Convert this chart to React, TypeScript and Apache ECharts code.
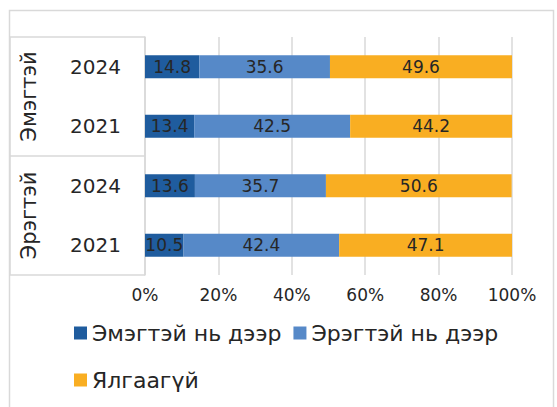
import React, { useEffect, useRef } from "react";
import * as echarts from "echarts";

const categories = ["2024", "2021", "2024", "2021"];
const groups = ["Эмэгтэй", "Эрэгтэй"];
const seriesNames = ["Эмэгтэй нь дээр", "Эрэгтэй нь дээр", "Ялгаагүй"];
const femaleHigher = [14.8, 13.4, 13.6, 10.5];
const maleHigher = [35.6, 42.5, 35.7, 42.4];
const noDifference = [49.6, 44.2, 50.6, 47.1];
const xTicks = [0, 20, 40, 60, 80, 100];

const colors = ["#1F5C9E", "#5689C8", "#F9AE22"];
const FONT = "DejaVu Sans";
const TXT = "#262626";
const LINE = "#D9D9D9";

export default function App() {
  const ref = useRef<HTMLDivElement>(null);
  useEffect(() => {
    if (!ref.current) return;
    const chart = echarts.init(ref.current, null, { renderer: "svg" });
    const gridLeft = 145;
    const gridTop = 37;
    const gridBottomY = 275;
    const mid = (gridTop + gridBottomY) / 2;
    const data = [femaleHigher, maleHigher, noDifference];
    const legendText = { fontFamily: FONT, fontSize: 22, color: TXT };
    chart.setOption({
      animation: false,
      grid: { left: gridLeft, right: 45, top: gridTop, bottom: 407 - gridBottomY, containLabel: false },
      xAxis: {
        type: "value",
        min: 0,
        max: 100,
        interval: 20,
        axisLabel: {
          formatter: (v: number) => (xTicks.includes(v) ? v + "%" : ""),
          fontFamily: FONT,
          fontSize: 17,
          color: TXT,
          margin: 11,
        },
        axisLine: { show: false },
        axisTick: { show: false },
        splitLine: { show: true, lineStyle: { color: LINE, width: 1.5 } },
      },
      yAxis: {
        type: "category",
        inverse: true,
        data: categories,
        axisLabel: { fontFamily: FONT, fontSize: 20, color: TXT, margin: 24 },
        axisLine: { show: true, lineStyle: { color: LINE, width: 1.5 } },
        axisTick: { show: false },
      },
      legend: [
        {
          data: seriesNames.slice(0, 2),
          left: 69,
          top: 317,
          icon: "rect",
          itemWidth: 13,
          itemHeight: 13,
          itemGap: 12,
          textStyle: legendText,
        },
        {
          data: seriesNames.slice(2),
          left: 69,
          top: 364,
          icon: "rect",
          itemWidth: 13,
          itemHeight: 13,
          textStyle: legendText,
        },
      ],
      series: seriesNames.map((name, i) => ({
        name,
        type: "bar",
        stack: "total",
        data: data[i],
        barWidth: 23,
        itemStyle: { color: colors[i] },
        label: {
          show: true,
          position: "inside",
          formatter: (p: any) => p.value.toFixed(1),
          fontFamily: FONT,
          fontSize: 17,
          color: TXT,
        },
      })),
      graphic: [
        {
          type: "rect",
          shape: { x: 9.5, y: 10.5, width: 544, height: 420 },
          style: { fill: "none", stroke: LINE, lineWidth: 1.5 },
          silent: true,
        },
        {
          type: "polyline",
          shape: { points: [[gridLeft, gridTop], [10, gridTop], [10, gridBottomY], [gridLeft, gridBottomY]] },
          style: { fill: "none", stroke: LINE, lineWidth: 1.5 },
          silent: true,
        },
        {
          type: "line",
          shape: { x1: 10, y1: mid, x2: gridLeft, y2: mid },
          style: { stroke: LINE, lineWidth: 1.5 },
          silent: true,
        },
        {
          type: "text",
          x: 29,
          y: (gridTop + mid) / 2,
          rotation: Math.PI / 2,
          style: {
            text: groups[0],
            fontFamily: FONT,
            fontSize: 21,
            fill: TXT,
            align: "center",
            verticalAlign: "middle",
          },
        },
        {
          type: "text",
          x: 29,
          y: (mid + gridBottomY) / 2,
          rotation: Math.PI / 2,
          style: {
            text: groups[1],
            fontFamily: FONT,
            fontSize: 21,
            fill: TXT,
            align: "center",
            verticalAlign: "middle",
          },
        },
      ],
    });
    return () => chart.dispose();
  }, []);
  return <div ref={ref} style={{ width: 557, height: 407, position: "absolute", left: 0, top: 0 }} />;
}
